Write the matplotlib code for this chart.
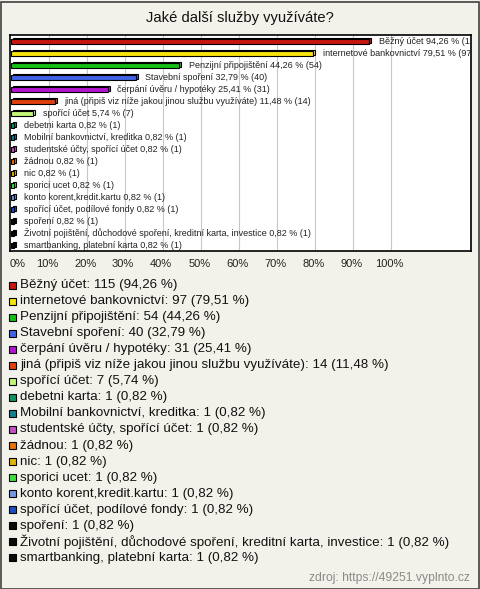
import numpy as np
import matplotlib
matplotlib.use("Agg")
import matplotlib.pyplot as plt
from matplotlib.patches import Rectangle
from matplotlib.transforms import ScaledTranslation

plt.rcParams["font.family"] = ["Liberation Sans", "DejaVu Sans"]

# -----------------------------------------------------------------------
# Data
# -----------------------------------------------------------------------
categories = [
    "Běžný účet",
    "internetové bankovnictví",
    "Penzijní připojištění",
    "Stavební spoření",
    "čerpání úvěru / hypotéky",
    "jiná (připiš viz níže jakou jinou službu využíváte)",
    "spořící účet",
    "debetni karta",
    "Mobilní bankovnictví, kreditka",
    "studentské účty, spořící účet",
    "žádnou",
    "nic",
    "sporici ucet",
    "konto korent,kredit.kartu",
    "spořící účet, podílové fondy",
    "spoření",
    "Životní pojištění, důchodové spoření, kreditní karta, investice",
    "smartbanking, platební karta",
]
counts = [115, 97, 54, 40, 31, 14, 7, 1, 1, 1, 1, 1, 1, 1, 1, 1, 1, 1]
percents = [94.26, 79.51, 44.26, 32.79, 25.41, 11.48, 5.74,
            0.82, 0.82, 0.82, 0.82, 0.82, 0.82, 0.82, 0.82, 0.82, 0.82, 0.82]
colors = ["#c8170e", "#f7e40c", "#14c014", "#3f63e6", "#b414d2", "#e1400e",
          "#c4f67a", "#0f9462", "#127f8e", "#c450c6", "#e7720e", "#e2b20e",
          "#3fe03c", "#7597e4", "#1e4fc2", "#0a0a0a", "#0a0a0a", "#0a0a0a"]
x_ticks = [0, 10, 20, 30, 40, 50, 60, 70, 80, 90, 100]

BG = "#f3f2ea"
W, H = 480, 589

def fmt(v):
    return f"{v:.2f}".replace(".", ",")

# -----------------------------------------------------------------------
# Figure
# -----------------------------------------------------------------------
fig = plt.figure(figsize=(W / 100, H / 100), dpi=100, facecolor=BG)
fig.patches.append(Rectangle((0.5 / W, 0.5 / H), 1 - 2 / W, 1 - 2.5 / H,
                             transform=fig.transFigure, fill=False,
                             ec="#404040", lw=1.2))

ax = fig.add_axes([10 / W, 1 - 251 / H, 461 / W, 216 / H])
ax.set_facecolor("white")
for s in ax.spines.values():
    s.set_color("black")
    s.set_linewidth(1.2)

ax.set_xlim(-0.3, 121)
ax.set_ylim(len(categories) - 0.5, -0.5)
for t in x_ticks[1:]:
    ax.axvline(t, color="#c8c8c8", lw=0.8, zorder=0)

y = np.arange(len(categories))
dx = 0.55
# back face (3D depth)
ax.barh(y - 0.06, percents, left=dx, height=0.44, color=colors,
        edgecolor="black", lw=0.8, zorder=2)
ax.barh(y + 0.07, percents, height=0.42, color=colors,
        edgecolor="black", lw=0.8, zorder=3)

# labels next to bars (the long top one is clipped by the frame, as in the original)
for yi, (name, p, c) in enumerate(zip(categories, percents, counts)):
    ax.annotate(f"{name} {fmt(p)} % ({c})", (p + dx, yi),
                xytext=(5.5, 0), textcoords="offset points",
                va="center", ha="left", fontsize=6.45, color="#222222",
                annotation_clip=False, clip_on=True, zorder=4)

ax.set_yticks([])
ax.set_xticks(x_ticks)
ax.set_xticklabels([f"{t}%" for t in x_ticks], fontsize=8, color="#222222")
ax.tick_params(axis="x", length=0, pad=6)
labels = ax.get_xticklabels()
labels[0].set_transform(labels[0].get_transform()
                        + ScaledTranslation(6 / 100, 0, fig.dpi_scale_trans))
for lab in labels[1:]:
    lab.set_transform(lab.get_transform()
                      + ScaledTranslation(-2 / 100, 0, fig.dpi_scale_trans))

fig.text(0.5, 1 - 18 / H, "Jaké další služby využíváte?", ha="center",
         va="center", fontsize=10.6, color="#111111")

# -----------------------------------------------------------------------
# Legend
# -----------------------------------------------------------------------
y0, step = 285, 16.05
for i, (name, p, c, col) in enumerate(zip(categories, percents, counts, colors)):
    yy = y0 + i * step
    fig.patches.append(Rectangle((9 / W, 1 - (yy + 3.5) / H), 7 / W, 7 / H,
                                 transform=fig.transFigure, fc=col,
                                 ec="black", lw=0.8))
    fig.text(20 / W, 1 - yy / H, f"{name}: {c} ({fmt(p)} %)", ha="left",
             va="center", fontsize=9.6, color="#111111")

fig.text(470 / W, 1 - 578 / H, "zdroj: https://49251.vyplnto.cz", ha="right",
         va="center", fontsize=8.7, color="#8a8a8a")

fig.savefig("out.png", dpi=100, facecolor=BG)
